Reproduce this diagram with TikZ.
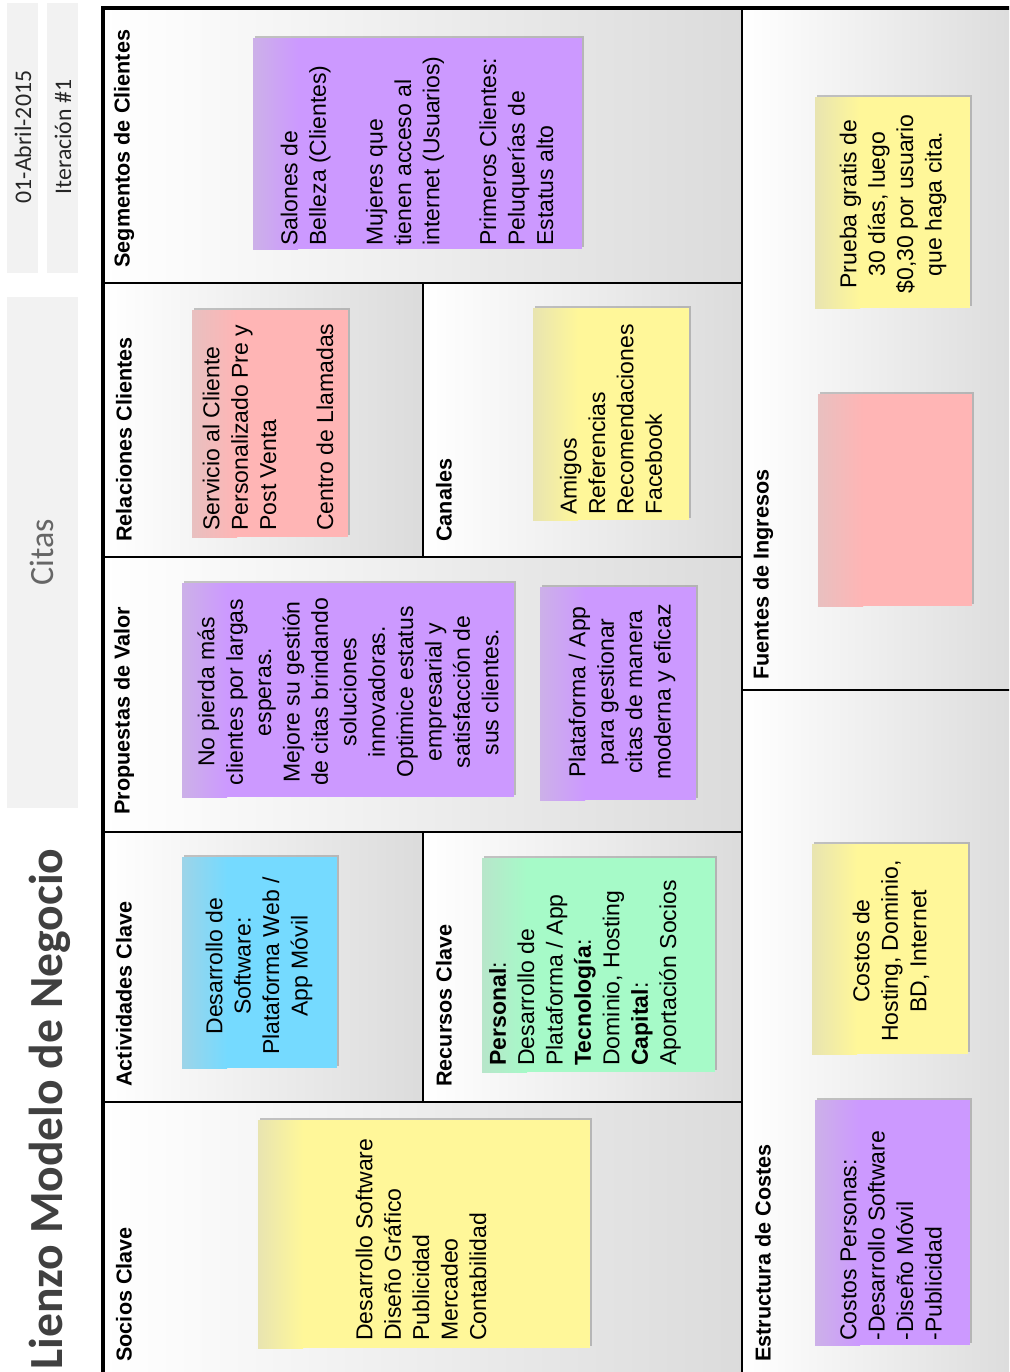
\documentclass[tikz,border=0pt]{standalone}
\usepackage{fontspec}
\usepackage{tikz}
\usetikzlibrary{shadows}
\setmainfont{Liberation Sans}
\newfontfamily\calibri{Carlito}

\definecolor{notepurple}{RGB}{204,153,255}
\definecolor{notepink}{RGB}{255,181,181}
\definecolor{noteyellow}{RGB}{255,247,153}
\definecolor{noteblue}{RGB}{117,218,255}
\definecolor{notegreen}{RGB}{166,250,200}
\definecolor{notefade}{RGB}{205,205,205}
\definecolor{stripgray}{RGB}{242,242,242}
\definecolor{titlegray}{RGB}{64,64,64}

\tikzset{
  block/.style={left color=white, right color=black!14},
  heading/.style={rotate=90, anchor=west, inner sep=0pt, font=\bfseries\fontsize{10.8}{13}\selectfont},
  notetext/.style={rotate=90, inner sep=0pt, font=\fontsize{11.5}{14.2}\selectfont},
  frame/.style={line width=1pt, black}
}

% sticky note: colour, then the two corners
\newcommand{\postit}[5]{%
  \fill[#1, drop shadow={shadow xshift=1.2pt, shadow yshift=0.9pt, opacity=0.45}] (#2,#3) rectangle (#4,#5);
  \shade[left color=#1!55!notefade, right color=#1] (#2,#3) rectangle ({#2+45},#5);
}

\begin{document}
\begin{tikzpicture}[x=0.5pt, y=-0.5pt]
        \useasboundingbox (0,0) rectangle (1009,1372);
        \clip (0,0) rectangle (1009,1372);

        % Header strips
        \fill[stripgray] (7,3) rectangle (38,273);
        \fill[stripgray] (47,3) rectangle (78,273);
        \fill[stripgray] (7,297) rectangle (78,808);
        \node[rotate=90, font=\calibri\fontsize{11.9}{13}\selectfont, text=black!85] (fecha) at (23,137) {01-Abril-2015};
        \node[rotate=90, font=\calibri\fontsize{11.9}{13}\selectfont, text=black!85] (iteracion) at (63,137) {Iteración \#1};
        \node[rotate=90, font=\calibri\fontsize{17}{20}\selectfont, text=black!60] (proyecto) at (42,552) {Citas};
        \node[rotate=90, anchor=west, inner sep=0pt, font=\calibri\bfseries\fontsize{23.8}{28}\selectfont, text=titlegray] (titulo) at (50,1370) {Lienzo Modelo de Negocio};

        % Blocks
        \shade[block] (103,8) rectangle (742,283);
        \shade[block] (103,283) rectangle (423,557);
        \shade[block] (423,283) rectangle (742,557);
        \shade[block] (103,557) rectangle (742,832);
        \shade[block] (103,832) rectangle (423,1102);
        \shade[block] (423,832) rectangle (742,1102);
        \shade[block] (103,1102) rectangle (742,1420);
        \shade[block, right color=black!16] (742,8) rectangle (1060,690);
        \shade[block, right color=black!16] (742,690) rectangle (1060,1420);

        % Grid lines
        \draw[frame] (103,283) -- (742,283);
        \draw[frame] (103,557) -- (742,557);
        \draw[frame] (103,832) -- (742,832);
        \draw[frame] (103,1102) -- (742,1102);
        \draw[frame] (423,283) -- (423,557);
        \draw[frame] (423,832) -- (423,1102);
        \draw[frame] (742,8) -- (742,1420);
        \draw[frame] (742,690) -- (1060,690);
        \draw[line width=1.8pt] (1060,8) -- (103,8) -- (103,1420);

        % Block headings
        \node[heading] (segmentos) at (124,268) {Segmentos de Clientes};
        \node[heading] (relaciones) at (124,542) {Relaciones Clientes};
        \node[heading] (canales) at (444,542) {Canales};
        \node[heading] (propuestas) at (124,815) {Propuestas de Valor};
        \node[heading] (actividades) at (124,1087) {Actividades Clave};
        \node[heading] (recursos) at (444,1087) {Recursos Clave};
        \node[heading] (socios) at (124,1362) {Socios Clave};
        \node[heading] (ingresos) at (763,680) {Fuentes de Ingresos};
        \node[heading] (costes) at (763,1362) {Estructura de Costes};

        % Notes
        \postit{notepurple}{253}{38}{582}{249}
        \node[notetext, anchor=west, align=left] (segnote) at (417,246) {Salones de\\Belleza (Clientes)\\[14.2pt]Mujeres que\\tienen acceso al\\internet (Usuarios)\\[14.2pt]Primeros Clientes:\\Peluquerías de\\Estatus alto};

        \postit{notepink}{192}{310}{348}{537}
        \node[notetext, anchor=west, align=left] (relnote) at (268,531) {Servicio al Cliente\\Personalizado Pre y\\Post Venta\\[14.2pt]Centro de Llamadas};

        \postit{noteyellow}{533}{308}{689}{520}
        \node[notetext, anchor=west, align=left] (cannote) at (611,515) {Amigos\\Referencias\\Recomendaciones\\Facebook};

        \postit{notepurple}{182}{583}{514}{797}
        \node[notetext, align=center] (propnote) at (348,692) {No pierda más\\clientes por largas\\esperas.\\Mejore su gestión\\de citas brindando\\soluciones\\innovadoras.\\Optimice estatus\\empresarial y\\satisfacción de\\sus clientes.};

        \postit{notepurple}{540}{587}{696}{800}
        \node[notetext, align=center] (appnote) at (622,692) {Plataforma / App\\para gestionar\\citas de manera\\moderna y eficaz};

        \postit{noteblue}{182}{857}{337}{1068}
        \node[notetext, align=center] (actnote) at (259,966) {Desarrollo de\\Software:\\Plataforma Web /\\App Móvil};

        \postit{notegreen}{482}{858}{715}{1072}
        \node[notetext, anchor=west, align=left] (recnote) at (585,1066) {\textbf{Personal}:\\Desarrollo de\\Plataforma / App\\\textbf{Tecnología}:\\Dominio, Hosting\\\textbf{Capital}:\\Aportación Socios};

        \postit{noteyellow}{258}{1120}{590}{1348}
        \node[notetext, anchor=west, align=left] (socnote) at (421,1341) {Desarrollo Software\\Diseño Gráfico\\Publicidad\\Mercadeo\\Contabilidad};

        \postit{noteyellow}{815}{97}{970}{308}
        \node[notetext, align=center] (pruebanote) at (893,204) {Prueba gratis de\\30 días, luego\\\$0,30 por usuario\\que haga cita.};

        \postit{notepink}{818}{394}{972}{606}

        \postit{noteyellow}{812}{844}{968}{1054}
        \node[notetext, align=center] (hostnote) at (891,951) {Costos de\\Hosting, Dominio,\\BD, Internet};

        \postit{notepurple}{815}{1100}{970}{1345}
        \node[notetext, anchor=west, align=left] (personasnote) at (891,1341) {Costos Personas:\\-Desarrollo Software\\-Diseño Móvil\\-Publicidad};
    \end{tikzpicture}
\end{document}
